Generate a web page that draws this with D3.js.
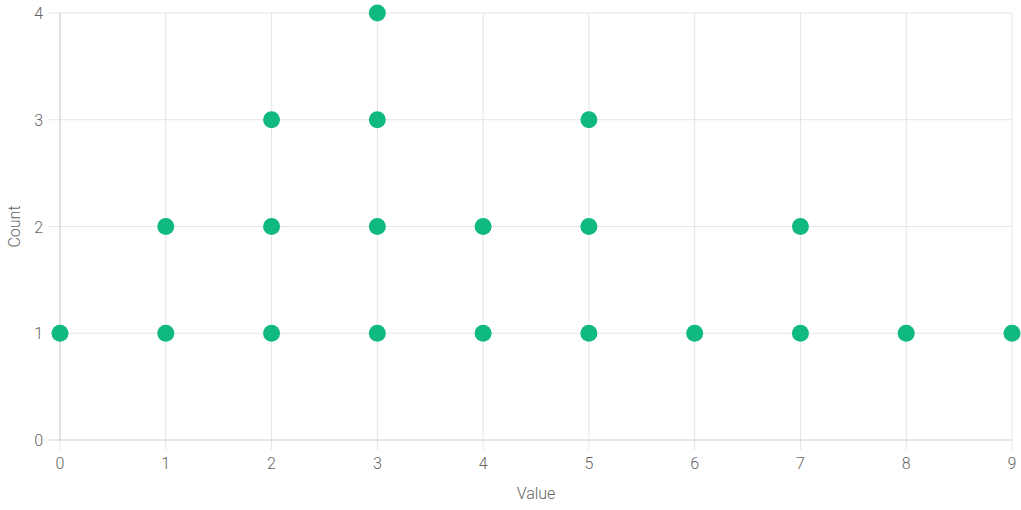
<!DOCTYPE html>
<html>
<head>
<meta charset="utf-8">
<script src="https://cdn.jsdelivr.net/npm/d3@7"></script>
<style>
  body { margin: 0; background: #fff; }
  text { font-family: Roboto, "Liberation Sans", sans-serif; font-weight: 300; fill: #666; }
</style>
</head>
<body>
<script>
var xValues = [0, 1, 1, 2, 2, 2, 3, 3, 3, 3, 4, 4, 5, 5, 5, 6, 7, 7, 8, 9];
var yCounts = [1, 1, 2, 1, 2, 3, 1, 2, 3, 4, 1, 2, 1, 2, 3, 1, 1, 2, 1, 1];
var xTicks = [0, 1, 2, 3, 4, 5, 6, 7, 8, 9];
var yTicks = [0, 1, 2, 3, 4];

var width = 1021, height = 510;
var svg = d3.select("body").append("svg").attr("width", width).attr("height", height);

var x = d3.scaleLinear().domain([0, 9]).range([60, 1012]);
var y = d3.scaleLinear().domain([0, 4]).range([440, 13]);

// grid
svg.selectAll("line.vgrid")
      .data(xTicks)
      .enter().append("line")
      .attr("class", "vgrid")
      .attr("x1", function (d) { return x(d); })
      .attr("x2", function (d) { return x(d); })
      .attr("y1", y(4))
      .attr("y2", y(0) + 10)
      .attr("stroke", "#e5e5e5")
      .attr("stroke-width", 1);

svg.selectAll("line.hgrid")
      .data(yTicks)
      .enter().append("line")
      .attr("class", "hgrid")
      .attr("x1", x(0) - 11)
      .attr("x2", x(9))
      .attr("y1", function (d) { return y(d); })
      .attr("y2", function (d) { return y(d); })
      .attr("stroke", function (d) { return d === 0 ? "#d0d0d0" : "#e5e5e5"; })
      .attr("stroke-width", 1);

svg.append("line")
      .attr("x1", x(0)).attr("x2", x(0))
      .attr("y1", y(4)).attr("y2", y(0))
      .attr("stroke", "#d0d0d0");

// tick labels
svg.selectAll("text.xt")
      .data(xTicks)
      .enter().append("text")
      .attr("class", "xt")
      .attr("x", function (d) { return x(d); })
      .attr("y", y(0) + 29)
      .attr("text-anchor", "middle")
      .attr("font-size", "16")
      .text(function (d) { return d; });

svg.selectAll("text.yt")
      .data(yTicks)
      .enter().append("text")
      .attr("class", "yt")
      .attr("x", x(0) - 17)
      .attr("y", function (d) { return y(d) + 6; })
      .attr("text-anchor", "end")
      .attr("font-size", "16")
      .text(function (d) { return d; });

// axis titles
svg.append("text")
      .attr("x", (x(0) + x(9)) / 2)
      .attr("y", 499)
      .attr("text-anchor", "middle")
      .attr("font-size", "16")
      .text("Value");

svg.append("text")
      .attr("transform", "translate(20," + ((y(0) + y(4)) / 2) + ") rotate(-90)")
      .attr("text-anchor", "middle")
      .attr("font-size", "16")
      .text("Count");

// points
svg.selectAll("circle")
      .data(xValues)
      .enter().append("circle")
      .attr("cx", function (d) { return x(d); })
      .attr("cy", function (d, i) { return y(yCounts[i]); })
      .attr("r", 8.5)
      .attr("fill", "#10b981");
</script>
</body>
</html>
